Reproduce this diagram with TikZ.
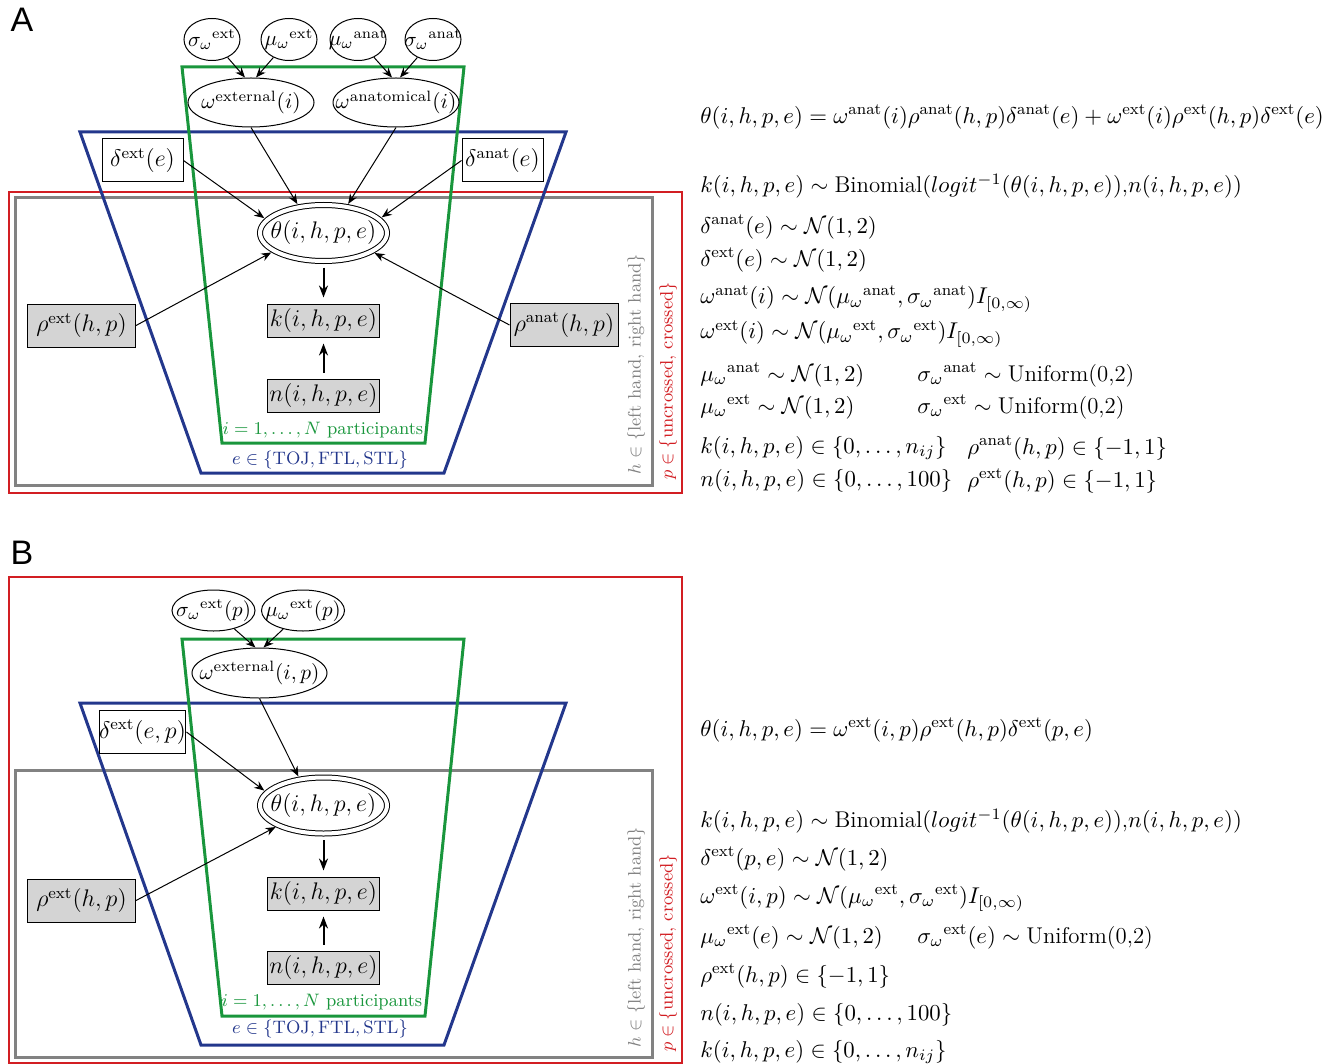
\RequirePackage{fix-cm}
\documentclass[tikz,border=0pt]{standalone}
\usepackage{amsmath,amssymb}
\usepackage{fontspec}
\newfontfamily\labfont{Liberation Sans}
\usetikzlibrary{shapes.geometric,arrows.meta}
\definecolor{cgreen}{RGB}{25,150,60}
\definecolor{cblue}{RGB}{35,55,140}
\definecolor{cred}{RGB}{210,30,35}
\definecolor{cgray}{RGB}{130,130,130}
\definecolor{cfill}{RGB}{212,212,212}
\newcommand{\sx}[1]{^{\mathrm{#1}}}
\tikzset{
  every node/.style={font=\large},
  hyper/.style={draw,ellipse,fill=white,line width=0.5pt,inner sep=-30pt,minimum width=28pt,minimum height=21pt,font=\fontsize{10.5}{12.5}\selectfont},
  latent/.style={draw,ellipse,fill=white,line width=0.5pt,inner sep=-30pt,minimum width=63pt,minimum height=24.5pt,font=\fontsize{10.7}{12.5}\selectfont},
  detnode/.style={draw,ellipse,fill=white,line width=0.5pt,double,double distance=2pt,inner sep=-30pt,minimum width=63.5pt,minimum height=28pt},
  constbox/.style={draw,rectangle,fill=white,line width=0.5pt,inner sep=0pt,minimum width=40.5pt,minimum height=21.5pt},
  obsbox/.style={draw,rectangle,fill=cfill,line width=0.5pt,inner sep=0pt,minimum width=54pt,minimum height=21.5pt},
  datbox/.style={draw,rectangle,fill=cfill,line width=0.5pt,inner sep=0pt,minimum width=56pt,minimum height=16.5pt},
  edge/.style={line width=0.5pt,-{Stealth[length=5pt,width=4pt]}},
  tedge/.style={edge,shorten >=1.5pt},
  thickedge/.style={line width=1pt,-{Stealth[length=6pt,width=4.5pt]},shorten <=3pt,shorten >=3pt},
  eq/.style={anchor=west,inner sep=0pt,font=\fontsize{11.4}{13.8}\selectfont},
  plgreen/.style={draw=cgreen,line width=1.5pt},
  plblue/.style={draw=cblue,line width=1.5pt},
  plgray/.style={draw=cgray,line width=1.5pt},
  plred/.style={draw=cred,line width=1pt},
  panel/.style={font=\labfont\fontsize{17}{20}\selectfont,inner sep=0pt},
  plabel/.style={font=\small,inner sep=0pt}
}
\begin{document}
\begin{tikzpicture}[x=0.5pt,y=-0.5pt]
\useasboundingbox (0,0) rectangle (1337,1064);
% ================= Panel A =================
\node[panel] (labA) at (22,20) {A};
\draw[plred] (9,192) rectangle (682,493);
\draw[plgray] (15,198) rectangle (652,485);
\draw[plblue] (80,132) -- (566,132) -- (444,473) -- (201,473) -- cycle;
\draw[plgreen] (182,67) -- (464,67) -- (425,443) -- (222,443) -- cycle;

\node[hyper] (sext) at (212,39.5) {${\sigma_\omega}\sx{ext}$};
\node[hyper] (mext) at (289,39.5) {${\mu_\omega}\sx{ext}$};
\node[hyper] (manat) at (358,39.5) {${\mu_\omega}\sx{anat}$};
\node[hyper] (sanat) at (433,39.5) {${\sigma_\omega}\sx{anat}$};
\node[latent] (wext) at (251,102.5) {$\omega\sx{external}(i)$};
\node[latent] (wanat) at (396,102.5) {$\omega\sx{anatomical}(i)$};
\node[constbox] (dext) at (142.5,160.5) {$\delta\sx{ext}(e)$};
\node[constbox] (danat) at (502.5,160.5) {$\delta\sx{anat}(e)$};
\node[detnode] (theta) at (323.5,233) {$\theta(i,h,p,e)$};
\node[datbox] (k) at (323.5,320.5) {$k(i,h,p,e)$};
\node[datbox] (n) at (323.5,395.5) {$n(i,h,p,e)$};
\node[obsbox] (rext) at (81.5,325.5) {$\rho\sx{ext}(h,p)$};
\node[obsbox] (ranat) at (564,325) {$\rho\sx{anat}(h,p)$};

\draw[edge] (sext) -- ([xshift=-3pt]wext.north);
\draw[edge] (mext) -- ([xshift=2.5pt]wext.north);
\draw[edge] (manat) -- ([xshift=-2pt]wanat.north);
\draw[edge] (sanat) -- ([xshift=2pt]wanat.north);
\draw[tedge] (wext.south) -- (theta.133);
\draw[tedge] (wanat.south) -- (theta.49);
\draw[tedge] (dext.east) -- (theta.167);
\draw[tedge] (danat.west) -- (theta.14);
\draw[tedge] (rext.east) -- (theta.200);
\draw[tedge] (ranat.west) -- (theta.339);
\draw[thickedge] (theta) -- (k);
\draw[thickedge] (n) -- (k);

\node[plabel,text=cgreen] (lpart) at (323,430) {$i=1,\ldots,N$ participants};
\node[plabel,text=cblue] (lexp) at (320,460) {$e\in\{\mathrm{TOJ},\mathrm{FTL},\mathrm{STL}\}$};
\node[plabel,text=cgray,rotate=90] (lhand) at (636,364) {$h\in\{$left hand, right hand$\}$};
\node[plabel,text=cred,rotate=90] (lpost) at (668,381) {$p\in\{$uncrossed, crossed$\}$};

% equations A
\node[eq] (a1) at (700,117) {$\theta(i,h,p,e)=\omega\sx{anat}(i)\rho\sx{anat}(h,p)\delta\sx{anat}(e)+\omega\sx{ext}(i)\rho\sx{ext}(h,p)\delta\sx{ext}(e)$};
\node[eq] (a2) at (700,186) {$k(i,h,p,e)\sim\mathrm{Binomial}(logit^{-1}(\theta(i,h,p,e))\text{,}n(i,h,p,e))$};
\node[eq] (a3) at (700,227) {$\delta\sx{anat}(e)\sim\mathcal{N}(1,2)$};
\node[eq] (a4) at (700,260) {$\delta\sx{ext}(e)\sim\mathcal{N}(1,2)$};
\node[eq] (a5) at (700,299) {$\omega\sx{anat}(i)\sim\mathcal{N}({\mu_\omega}\sx{anat},{\sigma_\omega}\sx{anat})I_{[0,\infty)}$};
\node[eq] (a6) at (700,334) {$\omega\sx{ext}(i)\sim\mathcal{N}({\mu_\omega}\sx{ext},{\sigma_\omega}\sx{ext})I_{[0,\infty)}$};
\node[eq] (a7) at (700,375) {${\mu_\omega}\sx{anat}\sim\mathcal{N}(1,2)$};
\node[eq] (a7b) at (917,375) {${\sigma_\omega}\sx{anat}\sim\text{Uniform(0,2)}$};
\node[eq] (a8) at (700,407) {${\mu_\omega}\sx{ext}\sim\mathcal{N}(1,2)$};
\node[eq] (a8b) at (917,407) {${\sigma_\omega}\sx{ext}\sim\text{Uniform(0,2)}$};
\node[eq] (a9) at (700,448) {$k(i,h,p,e)\in\{0,\ldots,n_{ij}\}$};
\node[eq] (a9b) at (967,448) {$\rho\sx{anat}(h,p)\in\{-1,1\}$};
\node[eq] (a10) at (700,481) {$n(i,h,p,e)\in\{0,\ldots,100\}$};
\node[eq] (a10b) at (967,481) {$\rho\sx{ext}(h,p)\in\{-1,1\}$};

% ================= Panel B =================
\node[panel] (labB) at (22,553) {B};
\draw[plred] (9,577) rectangle (682,1063);
\draw[plgray] (15,770) rectangle (652,1057);
\draw[plblue] (80,703) -- (566,703) -- (444,1045) -- (201,1045) -- cycle;
\draw[plgreen] (182,639) -- (464,639) -- (425,1016) -- (222,1016) -- cycle;

\node[hyper,minimum width=41.5pt,minimum height=20.5pt] (bsext) at (213.5,610.5) {${\sigma_\omega}\sx{ext}(p)$};
\node[hyper,minimum width=41.5pt,minimum height=20.5pt] (bmext) at (303,610.5) {${\mu_\omega}\sx{ext}(p)$};
\node[latent,minimum width=67.5pt,minimum height=25pt] (bwext) at (259.5,673) {$\omega\sx{external}(i,p)$};
\node[constbox] (bdext) at (142.5,732) {$\delta\sx{ext}(e,p)$};
\node[detnode] (btheta) at (323.5,805.5) {$\theta(i,h,p,e)$};
\node[datbox] (bk) at (323.5,893.5) {$k(i,h,p,e)$};
\node[datbox] (bn) at (323.5,967.5) {$n(i,h,p,e)$};
\node[obsbox] (brext) at (81.5,900.5) {$\rho\sx{ext}(h,p)$};

\draw[edge] (bsext) -- ([xshift=-2pt]bwext.north);
\draw[edge] (bmext) -- ([xshift=2pt]bwext.north);
\draw[tedge] (bwext.south) -- (btheta.132);
\draw[tedge] (bdext.east) -- (btheta.167);
\draw[tedge] (brext.east) -- (btheta.204);
\draw[thickedge] (btheta) -- (bk);
\draw[thickedge] (bn) -- (bk);

\node[plabel,text=cgreen] (blpart) at (322,1002) {$i=1,\ldots,N$ participants};
\node[plabel,text=cblue] (blexp) at (320,1029) {$e\in\{\mathrm{TOJ},\mathrm{FTL},\mathrm{STL}\}$};
\node[plabel,text=cgray,rotate=90] (blhand) at (636,937) {$h\in\{$left hand, right hand$\}$};
\node[plabel,text=cred,rotate=90] (blpost) at (668,953) {$p\in\{$uncrossed, crossed$\}$};

% equations B
\node[eq] (b1) at (700,730) {$\theta(i,h,p,e)=\omega\sx{ext}(i,p)\rho\sx{ext}(h,p)\delta\sx{ext}(p,e)$};
\node[eq] (b2) at (700,821) {$k(i,h,p,e)\sim\mathrm{Binomial}(logit^{-1}(\theta(i,h,p,e))\text{,}n(i,h,p,e))$};
\node[eq] (b3) at (700,859) {$\delta\sx{ext}(p,e)\sim\mathcal{N}(1,2)$};
\node[eq] (b4) at (700,898) {$\omega\sx{ext}(i,p)\sim\mathcal{N}({\mu_\omega}\sx{ext},{\sigma_\omega}\sx{ext})I_{[0,\infty)}$};
\node[eq] (b5) at (700,937) {${\mu_\omega}\sx{ext}(e)\sim\mathcal{N}(1,2)$};
\node[eq] (b5b) at (917,937) {${\sigma_\omega}\sx{ext}(e)\sim\text{Uniform(0,2)}$};
\node[eq] (b6) at (700,976) {$\rho\sx{ext}(h,p)\in\{-1,1\}$};
\node[eq] (b7) at (700,1015) {$n(i,h,p,e)\in\{0,\ldots,100\}$};
\node[eq] (b8) at (700,1052) {$k(i,h,p,e)\in\{0,\ldots,n_{ij}\}$};
\end{tikzpicture}
\end{document}
